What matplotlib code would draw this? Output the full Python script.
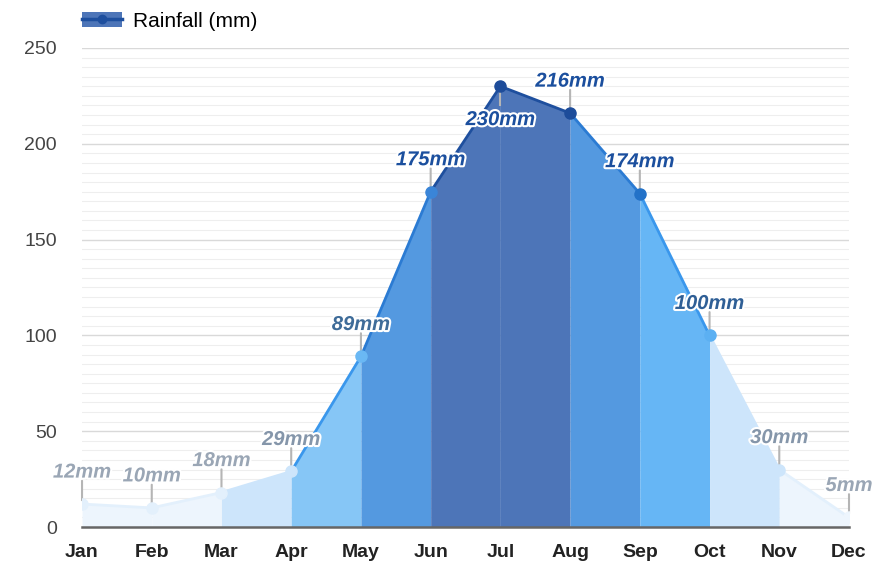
import matplotlib
matplotlib.use("Agg")
import matplotlib.pyplot as plt
import matplotlib.patheffects as pe
from matplotlib.patches import Patch
from matplotlib.lines import Line2D
import numpy as np

# Data
months = ["Jan", "Feb", "Mar", "Apr", "May", "Jun", "Jul", "Aug", "Sep", "Oct", "Nov", "Dec"]
rainfall = [12, 10, 18, 29, 89, 175, 230, 216, 174, 100, 30, 5]

# Styling per month / per segment
fill_colors = ["#edf5fd", "#edf5fd", "#cde5fb", "#86c6f6", "#5499e0", "#4d75b8",
               "#4d75b8", "#5499e0", "#66b6f5", "#cde5fb", "#edf5fd"]
line_colors = ["#e3f0fc", "#e3f0fc", "#cde5fb", "#3a97ec", "#2b7bd3", "#1e4f9e",
               "#1e4f9e", "#2b7bd3", "#3a97ec", "#cde5fb", "#e3f0fc"]
marker_colors = ["#e3f0fc", "#e3f0fc", "#e3f0fc", "#cde5fb", "#6ab8f4", "#3a85d8",
                 "#1d4c9a", "#1d4c9a", "#2372c8", "#5cb0f2", "#cde5fb", "#edf5fd"]
label_colors = ["#9aa6b5", "#9aa6b5", "#9aa6b5", "#8596aa", "#3f6c99", "#1b4f9e",
                "#1b4f9e", "#1b4f9e", "#1b4f9e", "#2f5f96", "#8596aa", "#9aa6b5"]

plt.rcParams["font.family"] = ["Liberation Sans", "DejaVu Sans"]

fig = plt.figure(figsize=(8.83, 5.71), dpi=100)
ax = fig.add_axes([0.0929, 0.077, 0.9615 - 0.0929, 0.916 - 0.077])

x = np.arange(len(months))

# grid lines
for v in range(0, 251, 5):
    if v % 50 == 0:
        ax.axhline(v, color="#d9d9d9", lw=1.0, zorder=0)
    else:
        ax.axhline(v, color="#eeeeee", lw=0.8, zorder=0)

# filled segments and lines
for i in range(len(months) - 1):
    xs = [x[i], x[i + 1]]
    ys = [rainfall[i], rainfall[i + 1]]
    ax.fill_between(xs, 0, ys, color=fill_colors[i], lw=0, zorder=1)
    ax.plot(xs, ys, color=line_colors[i], lw=2, zorder=2, solid_capstyle="round")

# markers
for i, v in enumerate(rainfall):
    ax.plot(x[i], v, "o", ms=8, color=marker_colors[i], mec=marker_colors[i], zorder=3)

# labels with leader lines
for i, v in enumerate(rainfall):
    if i == 6:
        ax.plot([x[i], x[i]], [v, v - 10], color="#b5b5b5", lw=1.5, zorder=2.5)
        offset = -24
    else:
        ax.annotate("", (x[i], v + 2), xytext=(0, 14), textcoords="offset points",
                    arrowprops=dict(arrowstyle="-", color="#b5b5b5", lw=1.5,
                                    shrinkA=0, shrinkB=0), zorder=2.5)
        offset = 23
    ax.annotate(f"{v}mm", (x[i], v), xytext=(0, offset), textcoords="offset points",
                ha="center", va="center", fontsize=14.5, fontweight="bold", style="italic",
                color=label_colors[i], zorder=5,
                path_effects=[pe.withStroke(linewidth=3, foreground="white")])

ax.set_xlim(0, 11)
ax.set_ylim(0, 250)
ax.set_xticks(x)
ax.set_xticklabels(months, fontsize=14, fontweight="bold", color="#222222")
ax.set_yticks(range(0, 251, 50))
ax.tick_params(axis="y", labelsize=14, labelcolor="#444444", length=0, pad=18)
ax.tick_params(axis="x", length=0, pad=12)
for s in ["top", "right", "left"]:
    ax.spines[s].set_visible(False)
ax.spines["bottom"].set_color("#666666")
ax.spines["bottom"].set_linewidth(1.8)
ax.spines["bottom"].set_zorder(4)

# legend
handle = (Patch(facecolor="#4d75b8", edgecolor="none"),
          Line2D([], [], color="#1e4f9e", lw=2.5, marker="o", ms=6))
ax.legend([handle], ["Rainfall (mm)"], loc="center left", bbox_to_anchor=(0.0, 1.056),
          frameon=False, fontsize=15, handlelength=1.9, handleheight=0.8,
          handletextpad=0.55, borderpad=0, borderaxespad=0)

fig.savefig("out.png", dpi=100)
